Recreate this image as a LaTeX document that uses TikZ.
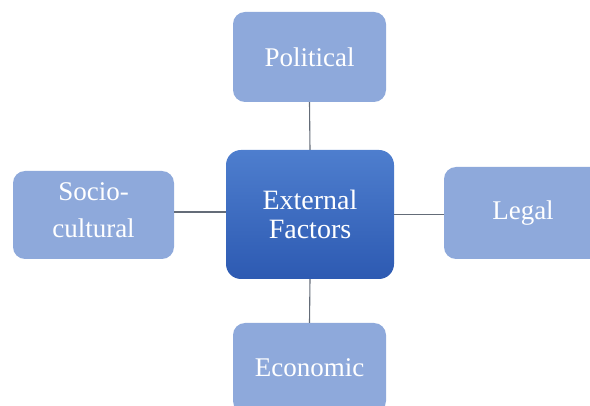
\documentclass[tikz,border=0pt]{standalone}
\usepackage{fontspec}
\setmainfont{Liberation Serif}
\definecolor{lightbox}{RGB}{142,169,219}
\definecolor{darktop}{RGB}{78,126,206}
\definecolor{darkbot}{RGB}{45,90,178}
\definecolor{linkgray}{RGB}{100,108,120}
\begin{document}
\begin{tikzpicture}[x=1pt,y=-1pt,
  factor/.style={draw=none,fill=lightbox,rounded corners=12pt,text=white,align=center,
    inner sep=0pt,font=\fontsize{27}{37}\selectfont},
  hub/.style={draw=none,top color=darktop,bottom color=darkbot,rounded corners=15pt,text=white,
    align=center,inner sep=0pt,font=\fontsize{28}{29}\selectfont},
  link/.style={draw=linkgray,line width=1.1pt}]
\useasboundingbox (0,0) rectangle (590,406);
\clip (0,0) rectangle (590,406);
\node[hub,minimum width=168pt,minimum height=129pt] (c) at (310,214.5) {External\\Factors};
\node[factor,minimum width=153pt,minimum height=90pt] (p) at (309.5,57) {Political};
\node[factor,minimum width=161pt,minimum height=88pt,
  label={[text=white,align=center,font=\fontsize{27}{37}\selectfont,yshift=5pt]center:Socio-\\cultural}] (s) at (93.5,215) {};
\node[factor,minimum width=158pt,minimum height=92pt] (l) at (523,213) {Legal};
\node[factor,minimum width=153pt,minimum height=90pt] (e) at (309.5,368) {Economic};
\draw[link] (p.south) -- (c.north);
\draw[link] (c.south) -- (e.north);
\draw[link] ([yshift=3pt]s.east) -- ([yshift=3pt]s.east -| c.west);
\draw[link] (c.east) -- (c.east -| l.west);
\end{tikzpicture}
\end{document}
